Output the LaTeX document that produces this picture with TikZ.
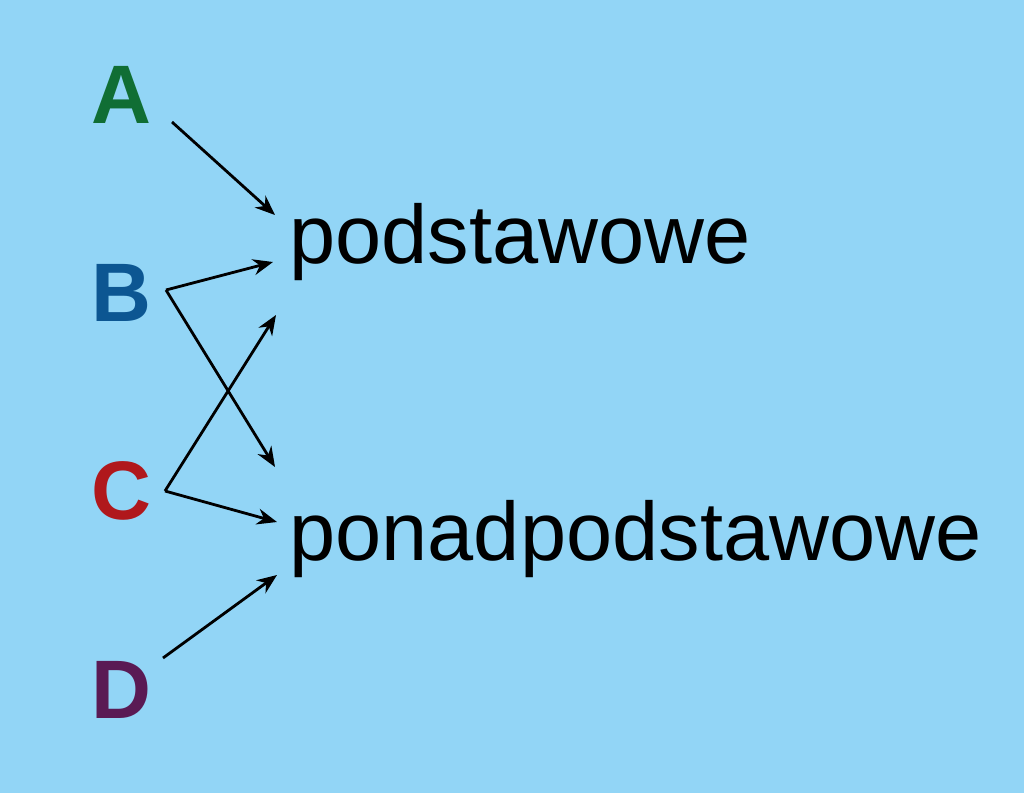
\documentclass[tikz,border=0pt]{standalone}
\usepackage{fontspec}
\setmainfont{Liberation Sans}
\usetikzlibrary{arrows.meta}
\definecolor{skyback}{RGB}{146,213,246}
\definecolor{letA}{RGB}{16,110,52}
\definecolor{letB}{RGB}{12,86,146}
\definecolor{letC}{RGB}{176,24,28}
\definecolor{letD}{RGB}{90,26,84}
\begin{document}
\begin{tikzpicture}[x=0.5pt, y=-0.5pt,
  letter/.style={anchor=base, inner sep=0pt, font=\fontsize{41.5}{48}\selectfont\bfseries},
  word/.style={anchor=base west, inner sep=0pt, font=\fontsize{41.5}{48}\selectfont},
  link/.style={line width=1.4pt, -{Stealth[length=10pt, width=8pt]}}]
  \fill[skyback] (0,0) rectangle (1024,793);
  \useasboundingbox (0,0) rectangle (1024,793);
  \node[letter, text=letA] (A) at (121,123) {A};
  \node[letter, text=letB] (B) at (121,321) {B};
  \node[letter, text=letC] (C) at (121,519) {C};
  \node[letter, text=letD] (D) at (121,718) {D};
  \node[word] (pod) at (289,263) {podstawowe};
  \node[word] (ponad) at (289,560) {ponadpodstawowe};
  \coordinate (a-out) at (172,122);
  \coordinate (b-out) at (166,290);
  \coordinate (c-out) at (165,491);
  \coordinate (d-out) at (163,658);
  \coordinate (pod-a) at (275,215);
  \coordinate (pod-b) at (273,262);
  \coordinate (pod-c) at (276,315);
  \coordinate (ponad-b) at (275,467);
  \coordinate (ponad-c) at (277,522);
  \coordinate (ponad-d) at (277,575);
  \draw[link] (a-out) -- (pod-a);
  \draw[link] (b-out) -- (pod-b);
  \draw[link] (b-out) -- (ponad-b);
  \draw[link] (c-out) -- (pod-c);
  \draw[link] (c-out) -- (ponad-c);
  \draw[link] (d-out) -- (ponad-d);
\end{tikzpicture}
\end{document}
